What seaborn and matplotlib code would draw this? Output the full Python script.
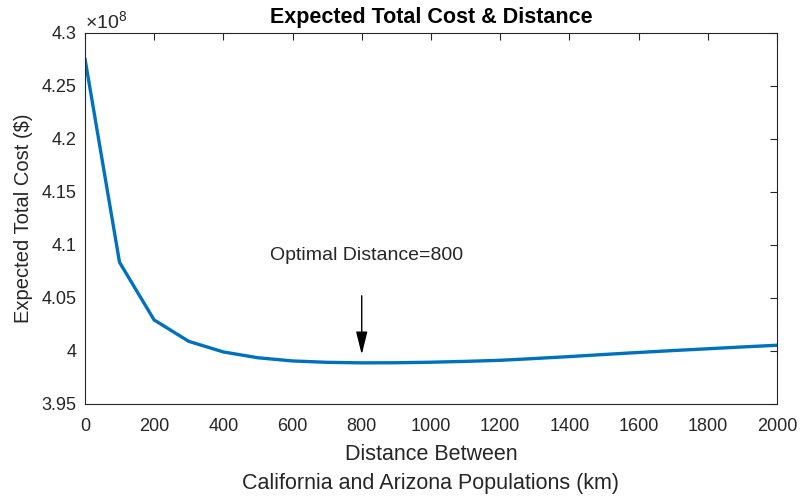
import matplotlib
matplotlib.use("Agg")
import matplotlib.pyplot as plt
import seaborn as sns
import pandas as pd
from matplotlib.ticker import FuncFormatter, MultipleLocator

# Separation distance between the two populations (km)
distance_km = [0, 100, 200, 300, 400, 500, 600, 700, 800, 900, 1000,
               1100, 1200, 1300, 1400, 1500, 1600, 1700, 1800, 1900, 2000]
# Expected total cost ($)
expected_cost = [4.276e8, 4.0836e8, 4.0292e8, 4.009e8, 3.999e8, 3.9935e8,
                 3.9905e8, 3.9892e8, 3.9887e8, 3.9888e8, 3.9893e8,
                 3.9901e8, 3.9911e8, 3.9928e8, 3.9946e8, 3.9966e8,
                 3.9985e8, 4.0003e8, 4.0020e8, 4.0037e8, 4.0053e8]
optimal_distance = 800

df = pd.DataFrame({"distance": distance_km, "cost": expected_cost})

sns.set_style("white")
plt.rcParams["font.family"] = ["Liberation Sans", "DejaVu Sans"]
plt.rcParams["mathtext.fontset"] = "custom"
plt.rcParams["mathtext.rm"] = "Liberation Sans"
plt.rcParams["mathtext.it"] = "Liberation Sans"

axis_grey = "#262626"

fig = plt.figure(figsize=(8.01, 4.98), dpi=100)
ax = fig.add_axes([0.106, 0.189, 0.864, 0.745])

sns.lineplot(data=df, x="distance", y="cost", color="#0072BD",
             linewidth=2.4, ax=ax)

ax.set_xlim(0, 2000)
ax.set_ylim(3.95e8, 4.3e8)
ax.xaxis.set_major_locator(MultipleLocator(200))
ax.yaxis.set_major_locator(MultipleLocator(0.05e8))
ax.yaxis.set_major_formatter(FuncFormatter(lambda v, p: f"{v / 1e8:g}"))

for s in ax.spines.values():
    s.set_color(axis_grey)
    s.set_linewidth(0.8)
ax.tick_params(direction="in", length=5, width=0.8, colors=axis_grey,
               labelsize=13, top=True, right=True)
ax.tick_params(axis="x", pad=10)
ax.tick_params(axis="y", pad=6)
for lbl in ax.get_xticklabels() + ax.get_yticklabels():
    lbl.set_color(axis_grey)

ax.set_xlabel("Distance Between\nCalifornia and Arizona Populations (km)",
              fontsize=15.5, color=axis_grey, linespacing=1.5, labelpad=7)
ax.set_ylabel("Expected Total Cost ($)", fontsize=14.5, color=axis_grey,
              labelpad=6)
ax.set_title("Expected Total Cost & Distance", fontsize=15.5,
             fontweight="bold", color="black", pad=7)

ax.text(0.0, 1.003, r"$\times10^{8}$", transform=ax.transAxes,
        fontsize=14, color=axis_grey, ha="left", va="bottom")

ax.annotate("", xy=(optimal_distance, 3.9966e8),
            xytext=(optimal_distance, 4.052e8),
            arrowprops=dict(arrowstyle="-|>,head_width=0.35,head_length=1.4",
                            color="black", lw=1.0, shrinkA=0, shrinkB=0))
ax.text(535, 4.0896e8, f"Optimal Distance={optimal_distance}",
        fontsize=14, color=axis_grey, ha="left", va="center")

fig.savefig("out.png", dpi=100)
